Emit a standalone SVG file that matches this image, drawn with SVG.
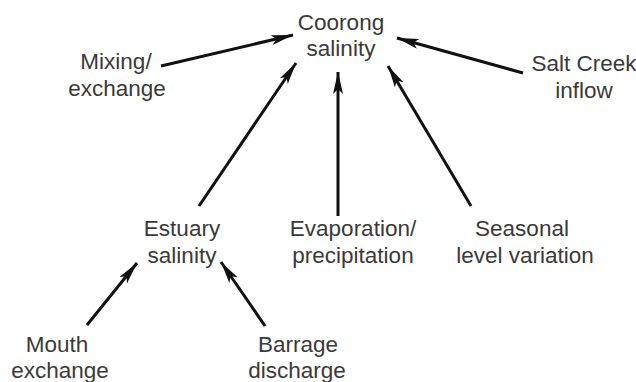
<svg xmlns="http://www.w3.org/2000/svg" width="636" height="382" viewBox="0 0 636 382">
<defs>
<marker id="ah" markerWidth="22" markerHeight="10" refX="22" refY="5" orient="auto" markerUnits="userSpaceOnUse">
<path d="M0,0 L22,5 L0,10 L5,5 Z" fill="#111"/>
</marker>
<style>
text{font-family:"Liberation Sans",Arial,sans-serif;font-size:22.5px;fill:#3a3a3a;text-anchor:middle}
.c line{stroke:#111;stroke-width:3;marker-end:url(#ah)}
</style>
</defs>
<rect width="636" height="382" fill="#fff"/>
<g class="c" id="connectors">
<line x1="161" y1="66" x2="293" y2="35"/>
<line x1="523" y1="73" x2="397" y2="38"/>
<line x1="199" y1="206" x2="296" y2="63"/>
<line x1="338" y1="216" x2="338" y2="72"/>
<line x1="471" y1="206" x2="388" y2="66"/>
<line x1="87" y1="325" x2="137" y2="263"/>
<line x1="265" y1="326" x2="221" y2="262"/>
</g>
<g id="coorong"><text x="341" y="30">Coorong</text><text x="341" y="56">salinity</text></g>
<g id="mixing"><text x="116" y="69">Mixing/</text><text x="117" y="96">exchange</text></g>
<g id="saltcreek"><text x="584" y="71">Salt Creek</text><text x="584" y="98">inflow</text></g>
<g id="estuary"><text x="182" y="236">Estuary</text><text x="182" y="263">salinity</text></g>
<g id="evap"><text x="353" y="236">Evaporation/</text><text x="353" y="263">precipitation</text></g>
<g id="seasonal"><text x="522" y="236">Seasonal</text><text x="525" y="263">level variation</text></g>
<g id="mouth"><text x="57" y="352">Mouth</text><text x="60" y="378">exchange</text></g>
<g id="barrage"><text x="298" y="352">Barrage</text><text x="297" y="378">discharge</text></g>
</svg>
